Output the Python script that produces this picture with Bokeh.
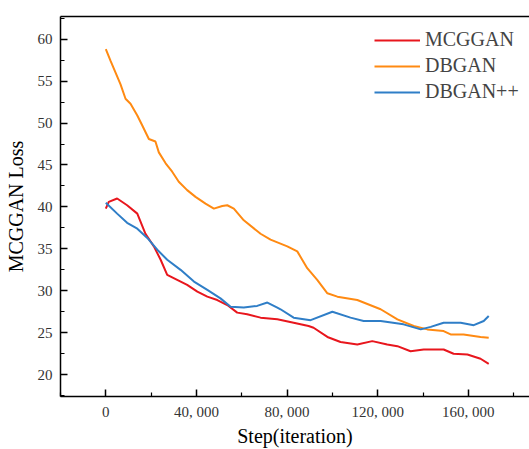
from bokeh.plotting import figure
from bokeh.models import Range1d, FixedTicker, LinearAxis, Legend, LegendItem
from bokeh.embed import file_html
from bokeh.resources import INLINE

# Data
mcggan_x = [0, 1300, 5000, 9400, 13900, 17500, 21200, 24200, 27100, 31500, 35900, 40400,
            44800, 49200, 53600, 58000, 62400, 68300, 75700, 82900, 89500, 91700, 97800,
            103600, 111000, 117600, 124200, 128700, 134500, 140300, 149100, 153500,
            159600, 165400, 169000]
mcggan_y = [39.8, 40.6, 41.0, 40.2, 39.2, 36.8, 35.3, 33.7, 31.9, 31.3, 30.7, 29.9,
            29.3, 28.9, 28.3, 27.4, 27.2, 26.8, 26.6, 26.2, 25.8, 25.6, 24.5,
            23.9, 23.6, 24.0, 23.6, 23.4, 22.8, 23.0, 23.0, 22.5,
            22.4, 21.9, 21.3]

dbgan_x = [0, 2100, 4300, 6500, 8700, 10900, 13900, 16100, 19000, 21900, 23400, 26400,
           29300, 32200, 35900, 39600, 44000, 47700, 51400, 53600, 56500, 60900, 68300,
           72700, 80100, 84500, 88900, 93300, 97800, 102200, 111000, 121300, 128700,
           135900, 141900, 149100, 152200, 157900, 165400, 169000]
dbgan_y = [58.8, 57.4, 56.0, 54.6, 52.9, 52.3, 50.9, 49.7, 48.1, 47.8, 46.5, 45.2,
           44.2, 43.0, 42.0, 41.2, 40.4, 39.8, 40.1, 40.2, 39.8, 38.4, 36.8,
           36.1, 35.3, 34.7, 32.7, 31.3, 29.7, 29.3, 28.9, 27.8, 26.6,
           25.8, 25.4, 25.2, 24.8, 24.8, 24.5, 24.4]

dbganpp_x = [0, 5000, 9400, 13900, 18300, 22700, 27100, 33000, 38900, 44800, 50600,
             55100, 60900, 66800, 71300, 75700, 77100, 82900, 90400, 100000, 108000,
             113800, 121300, 131400, 139000, 143400, 149100, 156600, 162400, 166800, 169000]
dbganpp_y = [40.5, 39.2, 38.1, 37.4, 36.3, 34.9, 33.7, 32.5, 31.1, 30.1, 29.1,
             28.1, 28.0, 28.2, 28.6, 28.0, 27.8, 26.8, 26.5, 27.5, 26.8,
             26.4, 26.4, 26.0, 25.4, 25.7, 26.2, 26.2, 25.9, 26.4, 27.0]

x_ticks = [0, 40000, 80000, 120000, 160000]
x_tick_labels = ["0", "40, 000", "80, 000", "120, 000", "160, 000"]
y_ticks = [20, 25, 30, 35, 40, 45, 50, 55, 60]

FONT = "Liberation Serif"

p = figure(width=529, height=449, output_backend="svg", toolbar_location=None,
           x_range=Range1d(-20000, 187000), y_range=Range1d(17.4, 62.7),
           min_border_left=60, min_border_right=0, min_border_top=16, min_border_bottom=52)
p.outline_line_color = None
p.grid.visible = False
p.background_fill_color = "white"

r1 = p.line(mcggan_x, mcggan_y, line_color="#E8161D", line_width=2)
r2 = p.line(dbgan_x, dbgan_y, line_color="#FF8A12", line_width=2)
r3 = p.line(dbganpp_x, dbganpp_y, line_color="#2F7EC7", line_width=2)

for ax in (p.xaxis[0], p.yaxis[0]):
    ax.axis_line_color = "black"
    ax.axis_line_width = 1.5
    ax.major_tick_line_color = "black"
    ax.minor_tick_line_color = "black"
    ax.major_tick_line_width = 1.5
    ax.minor_tick_line_width = 1.2
    ax.major_tick_in = 7
    ax.major_tick_out = 0
    ax.minor_tick_in = 4
    ax.minor_tick_out = 0
    ax.major_label_text_font = FONT
    ax.major_label_text_font_size = "15px"
    ax.major_label_text_color = "#333333"
    ax.axis_label_text_font = FONT
    ax.axis_label_text_font_size = "20px"
    ax.axis_label_text_font_style = "normal"
    ax.axis_label_text_color = "black"

p.xaxis[0].ticker = FixedTicker(ticks=x_ticks, minor_ticks=[-20000, 20000, 60000, 100000, 140000, 180000])
p.xaxis[0].major_label_overrides = dict(zip(x_ticks, x_tick_labels))
p.xaxis[0].axis_label = "Step(iteration)"
p.xaxis[0].major_label_standoff = 7
p.xaxis[0].axis_label_standoff = 2

p.yaxis[0].ticker = FixedTicker(ticks=y_ticks, minor_ticks=[17.5, 22.5, 27.5, 32.5, 37.5, 42.5, 47.5, 52.5, 57.5, 62.5])
p.yaxis[0].axis_label = "MCGGAN Loss"
p.yaxis[0].major_label_standoff = 8
p.yaxis[0].axis_label_standoff = 8

top = LinearAxis(ticker=FixedTicker(ticks=[]), major_tick_line_color=None,
                 minor_tick_line_color=None, axis_line_color="black", axis_line_width=1.5,
                 major_label_standoff=0)
p.add_layout(top, "above")

legend = Legend(items=[LegendItem(label="MCGGAN", renderers=[r1]),
                       LegendItem(label="DBGAN", renderers=[r2]),
                       LegendItem(label="DBGAN++", renderers=[r3])],
                location=(314, 293), border_line_color=None, background_fill_alpha=0,
                label_text_font=FONT, label_text_font_size="20px", glyph_width=46,
                glyph_height=20, label_height=20, spacing=3, padding=4, margin=0,
                label_standoff=5)
p.add_layout(legend)

open("out.html", "w").write(file_html(p, INLINE))
